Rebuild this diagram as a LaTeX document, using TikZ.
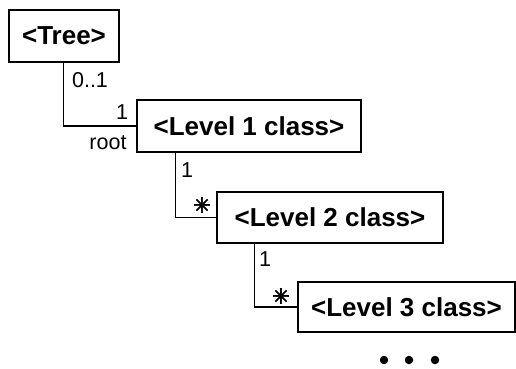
\documentclass[tikz,border=0pt]{standalone}
\usepackage{fontspec}
\setmainfont{Liberation Sans}
\newfontfamily\symfont[FakeBold=2.5]{DejaVu Sans}
\begin{document}
\begin{tikzpicture}[x=1pt,y=-1pt,
  classbox/.style={draw, line width=1.1pt, inner sep=0pt,
    font=\fontsize{26}{30}\selectfont\bfseries},
  mult/.style={inner sep=0pt, font=\fontsize{21.5}{24}\selectfont},
  many/.style={inner sep=0pt, font=\symfont\fontsize{21}{24}\selectfont},
  link/.style={line width=1.1pt},
  dot/.style={circle, fill=black, inner sep=0pt, minimum size=8.5pt}]
\useasboundingbox (0,0) rectangle (516,368);

% class boxes
\node[classbox, minimum width=110pt, minimum height=52pt] (tree) at (64,36) {<Tree>};
\node[classbox, minimum width=224pt, minimum height=52pt] (lone) at (249,126) {<Level 1 class>};
\node[classbox, minimum width=226pt, minimum height=51pt] (ltwo) at (330,217.5) {<Level 2 class>};
\node[classbox, minimum width=217pt, minimum height=50pt] (lthree) at (406.5,307) {<Level 3 class>};

% associations
\draw[link] ([xshift=55pt]tree.south west) |- (lone.west);
\draw[link] ([xshift=39pt]lone.south west) |- (ltwo.west);
\draw[link] ([xshift=38pt]ltwo.south west) |- (lthree.west);

% multiplicities and role
\node[mult] (m1) at (90,80) {0..1};
\node[mult] (m2) at (122,112) {1};
\node[mult] (r1) at (108,143) {root};
\node[mult] (m3) at (187,170) {1};
\node[many] (m4) at (202,205) {✳};
\node[mult] (m5) at (265,259) {1};
\node[many] (m6) at (281,296) {✳};

% continuation
\node[dot] (d1) at (384,360) {};
\node[dot] (d2) at (409,360) {};
\node[dot] (d3) at (435,360) {};
\end{tikzpicture}
\end{document}
